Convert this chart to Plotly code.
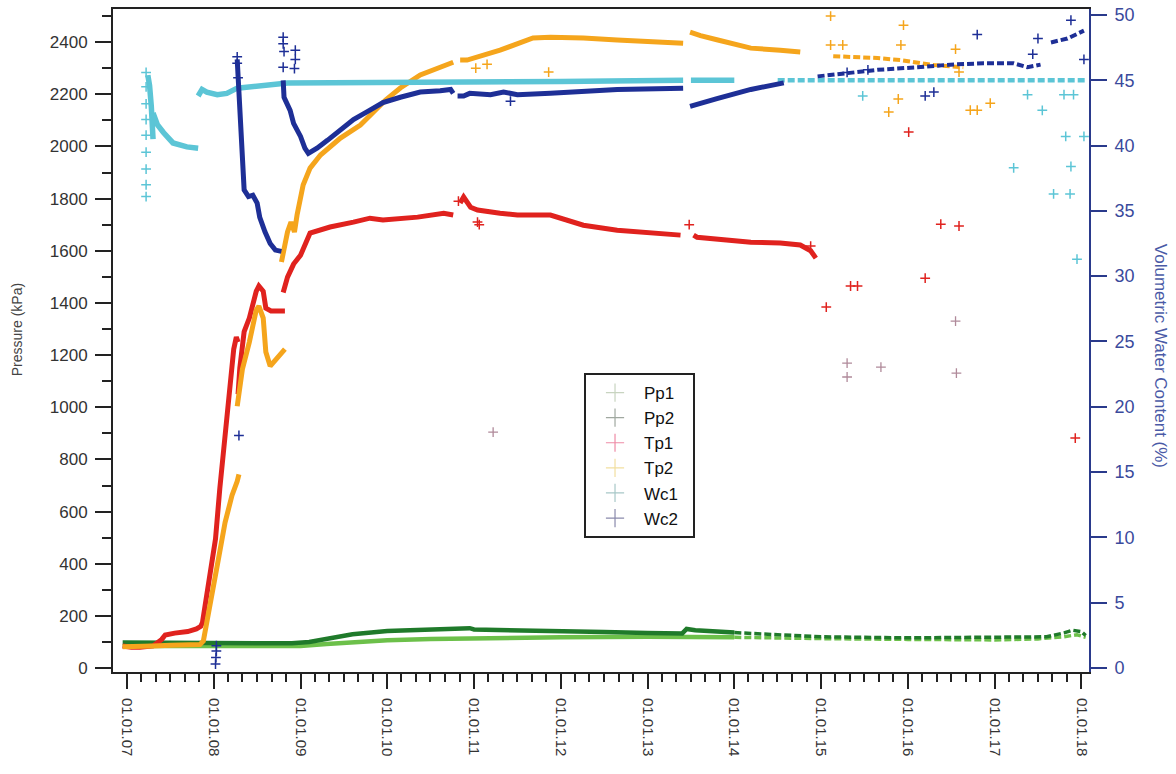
import pandas as pd
import plotly.graph_objects as go

# ---------------- data (decimal years, kPa / %) ----------------
X_TICK_START = "2007-01-01"

PP1_YEAR = [2006.95, 2007.5, 2008.0, 2008.5, 2009.0, 2009.3, 2009.6, 2010.0, 2010.5, 2011.0, 2012.0,
            2013.0, 2013.5, 2014.0, 2014.5, 2015.0, 2016.0, 2017.0, 2017.5, 2017.8, 2017.95, 2018.05]
PP1_KPA = [85, 85, 86, 86, 85, 92, 100, 107, 112, 115, 118,
           120, 120, 118, 115, 113, 110, 108, 112, 120, 128, 118]

PP2_YEAR = [2006.95, 2007.5, 2008.0, 2008.5, 2008.9, 2009.1, 2009.3, 2009.6, 2010.0, 2010.5, 2010.95,
            2011.0, 2011.5, 2012.0, 2012.5, 2013.0, 2013.4, 2013.45, 2013.55, 2014.0, 2014.5, 2015.0,
            2016.0, 2017.0, 2017.6, 2017.8, 2017.9, 2018.0, 2018.05]
PP2_KPA = [98, 98, 97, 97, 95, 100, 112, 130, 142, 150, 153,
           148, 146, 143, 138, 135, 133, 150, 145, 136, 128, 120,
           116, 117, 120, 135, 145, 140, 125]

TP1_YEAR = [2006.95, 2007.05, 2007.15, 2007.30, 2007.40, 2007.44, 2007.55, 2007.70, 2007.80, 2007.85,
            2007.87, 2007.93, 2008.02, 2008.07, 2008.13, 2008.19, 2008.23, 2008.26, 2008.28, None,
            2008.28, 2008.30, 2008.35, 2008.41, 2008.49, 2008.52, 2008.57, 2008.60, 2008.66, 2008.82, None,
            2008.80, 2008.85, 2008.92, 2009.00, 2009.11, 2009.34, 2009.61, 2009.80, 2009.95, 2010.35,
            2010.65, 2010.76, None,
            2010.84, 2010.88, 2010.96, 2011.04, 2011.30, 2011.50, 2011.88, 2012.26, 2012.65, 2013.03,
            2013.38, None,
            2013.53, 2013.57, 2014.19, 2014.53, 2014.76, 2014.88, 2014.94]
TP1_KPA = [85, 80, 80, 85, 110, 127, 134, 140, 150, 160,
           175, 299, 495, 690, 886, 1081, 1223, 1269, 1250, None,
           1050, 1150, 1290, 1342, 1445, 1465, 1445, 1380, 1369, 1369, None,
           1440, 1499, 1549, 1583, 1668, 1691, 1710, 1725, 1718, 1729,
           1744, 1737, None,
           1783, 1806, 1767, 1756, 1744, 1737, 1737, 1698, 1679, 1668,
           1660, None,
           1660, 1652, 1633, 1630, 1622, 1600, 1572]
TP1_OUT_YEAR = [2010.82, 2011.04, 2011.06, 2013.48, 2014.88, 2015.06, 2015.34, 2015.42,
                2016.01, 2016.20, 2016.38, 2016.59, 2017.93]
TP1_OUT_KPA = [1790, 1710, 1700, 1700, 1618, 1384, 1465, 1465,
               2055, 1495, 1702, 1695, 882]
# faint greyish stray readings
STRAY_YEAR = [2011.22, 2015.30, 2015.30, 2015.69, 2016.55, 2016.56]
STRAY_KPA = [905, 1169, 1116, 1154, 1330, 1131]

TP2_YEAR = [2006.95, 2007.10, 2007.30, 2007.50, 2007.70, 2007.84, 2007.88, 2007.98, 2008.06, 2008.13,
            2008.21, 2008.27, 2008.29, None,
            2008.27, 2008.29, 2008.33, 2008.41, 2008.49, 2008.52, 2008.57, 2008.60, 2008.65, 2008.72,
            2008.80, 2008.82, None,
            2008.78, 2008.85, 2008.89, 2008.93, 2008.96, 2009.03, 2009.11, 2009.23, 2009.46, 2009.69,
            2009.98, 2010.15, 2010.38, 2010.73, 2010.76, None,
            2010.84, 2010.92, 2011.30, 2011.50, 2011.68, 2011.88, 2012.26, 2012.65, 2013.03, 2013.38,
            2013.41, None,
            2013.49, 2013.53, 2013.61, 2013.81, 2014.19, 2014.53, 2014.76, 2015.14, 2015.65, 2015.92,
            2016.30, 2016.64]
TP2_KPA = [82, 85, 85, 88, 88, 90, 104, 300, 430, 558,
           662, 716, 743, None,
           1004, 1054, 1146, 1250, 1373, 1388, 1342, 1212, 1158, 1185,
           1212, 1223, None,
           1557, 1672, 1710, 1672, 1737, 1852, 1917, 1967, 2032, 2082,
           2178, 2224, 2274, 2323, 2323, None,
           2331, 2331, 2369, 2396, 2416, 2419, 2416, 2408, 2400, 2396,
           2396, None,
           2438, 2435, 2425, 2408, 2377, 2369, 2362, 2346, 2339, 2331,
           2312, 2304]
TP2_OUT_YEAR = [2011.02, 2011.15, 2011.86, 2015.11, 2015.11, 2015.25, 2015.95, 2015.92, 2015.78,
                2015.89, 2016.72, 2016.80, 2016.95, 2016.59, 2016.55]
TP2_OUT_KPA = [2300, 2315, 2285, 2500, 2389, 2389, 2465, 2389, 2132,
               2182, 2139, 2139, 2166, 2285, 2373]

WC1_YEAR = [2007.24, 2007.26, 2007.28, 2007.30, None,
            2007.30, 2007.35, 2007.42, 2007.53, 2007.69, 2007.82, None,
            2007.82, 2007.865, 2007.92, 2008.04, 2008.15, 2008.27, 2008.85, 2009.5, 2010.0, 2011.0,
            2012.0, 2013.41, None,
            2013.50, 2014.0, 2014.5, 2015.0, 2016.0, 2017.0, 2018.05]
WC1_PCT = [45.4, 44.6, 43.0, 40.5, None,
           42.5, 41.6, 41.0, 40.2, 39.9, 39.8, None,
           43.8, 44.3, 44.1, 43.9, 44.0, 44.4, 44.8, 44.8, 44.8, 44.9,
           44.9, 45.0, None,
           45.0, 45.0, 45.0, 45.0, 45.0, 45.0, 45.0]
WC1_OUT_YEAR = [2007.22, 2007.22, 2007.22, 2007.22, 2007.22, 2007.22, 2007.22, 2007.22, 2007.22,
                2015.48, 2017.38, 2017.55, 2017.80, 2017.91, 2017.82, 2018.03, 2017.22, 2017.88,
                2017.68, 2017.87, 2017.95]
WC1_OUT_PCT = [45.6, 44.5, 43.2, 42.0, 40.8, 39.5, 38.2, 37.0, 36.1,
               43.8, 43.9, 42.7, 43.9, 43.9, 40.7, 40.7, 38.3, 38.4,
               36.3, 36.3, 31.3]

WC2_YEAR = [2008.27, 2008.285, 2008.30, 2008.33, 2008.34, 2008.35, 2008.40, 2008.45, 2008.50, 2008.53,
            2008.59, 2008.65, 2008.71, 2008.78, None,
            2008.80, 2008.81, 2008.88, 2008.92, 2009.00, 2009.05, 2009.09, 2009.19, 2009.31, 2009.46,
            2009.61, 2009.77, 2009.95, 2010.15, 2010.38, 2010.61, 2010.73, 2010.76, None,
            2010.81, 2010.88, 2010.95, 2011.19, 2011.34, 2011.50, 2011.88, 2012.65, 2013.41, None,
            2013.49, 2013.61, 2013.80, 2014.19, 2014.57, 2014.96, 2015.65, 2016.11, 2016.49, 2016.87,
            2017.22, 2017.38, 2017.53, None,
            2017.65, 2017.84, 2018.03]
WC2_PCT = [46.6, 44.8, 42.5, 40.4, 38.1, 36.6, 36.1, 36.2, 35.6, 34.5,
           33.4, 32.5, 32.0, 31.9, None,
           45.0, 43.7, 42.7, 41.7, 40.7, 39.8, 39.4, 39.8, 40.4, 41.2,
           42.0, 42.6, 43.3, 43.7, 44.1, 44.2, 44.3, 44.0, None,
           43.8, 43.8, 44.0, 43.9, 44.1, 43.9, 44.0, 44.3, 44.4, None,
           43.0, 43.2, 43.6, 44.3, 44.8, 45.3, 45.8, 46.0, 46.2, 46.3,
           46.3, 46.0, 46.2, None,
           47.9, 48.2, 48.8]
WC2_OUT_YEAR = [2008.02, 2008.025, 2008.03, 2008.03, 2008.27, 2008.27, 2008.28, 2008.29,
                2008.80, 2008.80, 2008.81, 2008.80, 2008.94, 2008.94, 2008.93, 2011.42, 2015.30,
                2015.54, 2016.20, 2016.30, 2016.80, 2017.50, 2017.44, 2017.88, 2018.03]
WC2_OUT_PCT = [0.3, 0.8, 1.3, 1.7, 46.8, 46.3, 45.2, 17.8,
               48.3, 47.8, 47.2, 46.0, 47.3, 46.6, 45.9, 43.4, 45.6,
               45.8, 43.8, 44.1, 48.5, 48.2, 47.0, 49.6, 46.6]

SERIES = ["Pp1", "Pp2", "Tp1", "Tp2", "Wc1", "Wc2"]
COLORS = {"Pp1": "#6cc04a", "Pp2": "#1f7a2a", "Tp1": "#e0221e", "Tp2": "#f5a51c",
          "Wc1": "#5cc5d6", "Wc2": "#1e2f96"}
LEGEND_COLORS = {"Pp1": "#c8d4c0", "Pp2": "#a0a8a0", "Tp1": "#ee8ca6", "Tp2": "#f2dfa0",
                 "Wc1": "#a8c8c8", "Wc2": "#8a8aac"}
TAIL_START = {"Pp1": 2014.3, "Pp2": 2014.3, "Tp2": 2014.9, "Wc1": 2014.3, "Wc2": 2014.6}

FONT = "Liberation Sans, Arial, sans-serif"


def to_date(v):
    if v is None:
        return None
    return pd.Timestamp("2007-01-01") + pd.Timedelta(days=(v - 2007.0) * 365.25)


def split_tail(years, vals, start):
    head_x, head_y, tail_x, tail_y = [], [], [], []
    for x, y in zip(years, vals):
        if x is None:
            head_x.append(None); head_y.append(None)
            tail_x.append(None); tail_y.append(None)
            continue
        if x <= start:
            head_x.append(x); head_y.append(y)
        if x >= start:
            tail_x.append(x); tail_y.append(y)
    last_head = [i for i, x in enumerate(head_x) if x is not None][-1]
    tail_x.insert(0, head_x[last_head]); tail_y.insert(0, head_y[last_head])
    return head_x, head_y, tail_x, tail_y


fig = go.Figure()

line_data = {
    "Pp1": (PP1_YEAR, PP1_KPA, "y"),
    "Pp2": (PP2_YEAR, PP2_KPA, "y"),
    "Tp1": (TP1_YEAR, TP1_KPA, "y"),
    "Tp2": (TP2_YEAR, TP2_KPA, "y"),
    "Wc1": (WC1_YEAR, WC1_PCT, "y2"),
    "Wc2": (WC2_YEAR, WC2_PCT, "y2"),
}
out_data = {
    "Tp1": (TP1_OUT_YEAR, TP1_OUT_KPA, "y"),
    "Tp2": (TP2_OUT_YEAR, TP2_OUT_KPA, "y"),
    "Wc1": (WC1_OUT_YEAR, WC1_OUT_PCT, "y2"),
    "Wc2": (WC2_OUT_YEAR, WC2_OUT_PCT, "y2"),
}
WIDTH = {"Pp1": 4.5, "Pp2": 4.5, "Tp1": 5, "Tp2": 5, "Wc1": 5.5, "Wc2": 5}

for name in SERIES:
    yrs, vals, ax = line_data[name]
    c = COLORS[name]
    if name in TAIL_START:
        hx, hy, tx, ty = split_tail(yrs, vals, TAIL_START[name])
    else:
        hx, hy, tx, ty = yrs, vals, [], []
    fig.add_trace(go.Scatter(x=[to_date(v) for v in hx], y=hy, yaxis=ax, mode="lines",
                             line=dict(color=c, width=WIDTH[name]), connectgaps=False,
                             showlegend=False, hoverinfo="skip"))
    if tx:
        fig.add_trace(go.Scatter(x=[to_date(v) for v in tx], y=ty, yaxis=ax, mode="lines",
                                 line=dict(color=c, width=WIDTH[name] - 1, dash="7px,3px"),
                                 connectgaps=False, showlegend=False, hoverinfo="skip"))
    if name in out_data:
        ox, oy, oax = out_data[name]
        fig.add_trace(go.Scatter(x=[to_date(v) for v in ox], y=oy, yaxis=oax, mode="markers",
                                 marker=dict(symbol="cross-thin", size=7,
                                             line=dict(width=1.5, color=c)),
                                 showlegend=False, hoverinfo="skip"))

fig.add_trace(go.Scatter(x=[to_date(v) for v in STRAY_YEAR], y=STRAY_KPA, mode="markers",
                         marker=dict(symbol="cross-thin", size=7,
                                     line=dict(width=1.3, color="#b08a9a")),
                         showlegend=False, hoverinfo="skip"))

for name in SERIES:
    # trailing non-breaking spaces only widen the legend box a little
    fig.add_trace(go.Scatter(x=[None], y=[None], mode="markers", name=name + "\u00a0\u00a0",
                             marker=dict(symbol="cross-thin", size=13,
                                         line=dict(width=1.2, color=LEGEND_COLORS[name]))))

AXC = "#222222"
BLUE = "#2a3a8c"
fig.update_layout(
    width=1176, height=774,
    margin=dict(l=113, r=87, t=9, b=102, autoexpand=False),
    paper_bgcolor="white", plot_bgcolor="white",
    font=dict(family=FONT, color="#333333"),
    showlegend=True,
    legend=dict(x=0.4826, y=0.451, xanchor="left", yanchor="top",
                bordercolor=AXC, borderwidth=2, bgcolor="white",
                font=dict(size=17, color="#111111", family=FONT),
                itemwidth=48, tracegroupgap=0),
    xaxis=dict(type="date", range=["2006-11-03", "2018-02-02"], automargin=False,
               tickmode="linear", tick0=X_TICK_START, dtick="M12", tickformat="%d.%m.%y",
               tickangle=90, ticks="outside", ticklen=15, tickwidth=2, tickcolor=AXC,
               ticklabelstandoff=6,
               tickfont=dict(size=15, color="#333333"),
               minor=dict(dtick="M2", tick0=X_TICK_START, ticks="outside", ticklen=8,
                          tickwidth=1.5, tickcolor=AXC),
               showline=True, linewidth=2, linecolor=AXC, mirror=True,
               showgrid=False, zeroline=False),
    yaxis=dict(range=[-15, 2527], tickmode="linear", tick0=0, dtick=200, automargin=False,
               ticks="outside", ticklen=16, tickwidth=2, tickcolor=AXC,
               ticklabelstandoff=4,
               tickfont=dict(size=17, color="#333333"),
               minor=dict(dtick=100, ticks="outside", ticklen=9, tickwidth=1.5, tickcolor=AXC),
               showline=True, linewidth=2, linecolor=AXC,
               showgrid=False, zeroline=False),
    yaxis2=dict(overlaying="y", side="right", range=[-0.31, 50.46], tickmode="linear",
                tick0=0, dtick=5, ticks="outside", ticklen=16, tickwidth=2, tickcolor=BLUE,
                automargin=False, ticklabelstandoff=4, ticklabeloverflow="allow",
                tickfont=dict(size=18, color="#3a4a9c"),
                showline=True, linewidth=2, linecolor=BLUE,
                showgrid=False, zeroline=False),
    annotations=[
        dict(text="Pressure (kPa)", xref="paper", yref="paper", x=-0.098, y=0.516,
             xanchor="center", yanchor="middle",
             textangle=-90, showarrow=False, font=dict(size=14, color="#444444", family=FONT)),
        dict(text="Volumetric Water Content (%)", xref="paper", yref="paper", x=1.0727, y=0.477,
             xanchor="center", yanchor="middle",
             textangle=90, showarrow=False, font=dict(size=17, color="#4a5aa6", family=FONT)),
    ],
)

# remove the default 8px page margin so the figure sits at the window origin
fig.write_html("out.html", config={"displayModeBar": False},
               post_script="document.body.style.margin='0';")
